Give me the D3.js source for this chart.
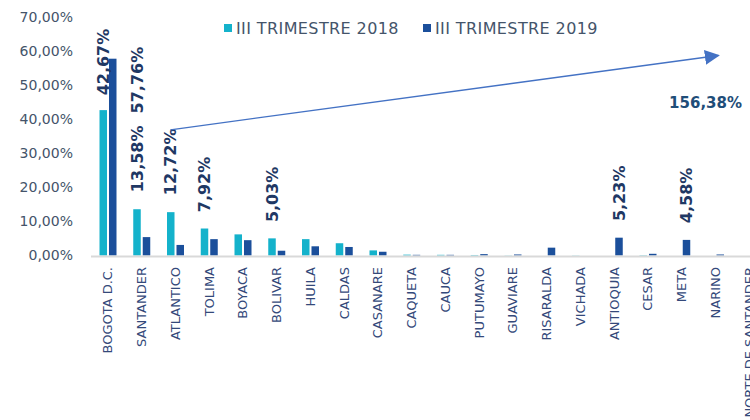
<!DOCTYPE html>
<html>
<head>
<meta charset="utf-8">
<script src="https://cdn.jsdelivr.net/npm/d3@7"></script>
<style>
    body { margin: 0; background: #fff; }
    svg { display: block; font-family: "DejaVu Sans", Verdana, sans-serif; }
</style>
</head>
<body>
<script>
// categories (departments)
var categories = ['BOGOTA D.C.', 'SANTANDER', 'ATLANTICO', 'TOLIMA', 'BOYACA', 'BOLIVAR', 'HUILA',
    'CALDAS', 'CASANARE', 'CAQUETA', 'CAUCA', 'PUTUMAYO', 'GUAVIARE', 'RISARALDA', 'VICHADA',
    'ANTIOQUIA', 'CESAR', 'META', 'NARINO', 'NORTE DE SANTANDER'];

// series names
var series = ['III TRIMESTRE 2018', 'III TRIMESTRE 2019'];

// values in %
var values2018 = [42.67, 13.58, 12.72, 7.92, 6.2, 5.03, 4.8, 3.6, 1.5, 0.25, 0.2, 0.15, 0.05, 0, 0.05, 0, 0.1, 0, 0, 0];
var values2019 = [57.76, 5.4, 3.1, 4.8, 4.5, 1.4, 2.7, 2.5, 1.1, 0.2, 0.2, 0.4, 0.3, 2.3, 0, 5.23, 0.5, 4.58, 0.3, 0];

// y ticks
var yTicks = [0, 10, 20, 30, 40, 50, 60, 70];

// manual labels: text, category, series slot, value where the label starts
var labelTexts  = ['42,67%', '57,76%', '13,58%', '12,72%', '7,92%', '5,03%', '5,23%', '4,58%'];
var labelCats   = ['BOGOTA D.C.', 'SANTANDER', 'SANTANDER', 'ATLANTICO', 'TOLIMA', 'BOLIVAR', 'ANTIOQUIA', 'META'];
var labelSeries = [0, 0, 0, 0, 0, 0, 1, 1];
var labelBase   = [47.0, 41.7, 18.6, 17.7, 12.7, 9.8, 10.1, 9.5];

// growth annotation
var growthText = '156,38%';

// init
var width  = 750,
    height = 420,
    colors = ['#14b2cb', '#1b4f9b'];

var svg = d3.select('body').append('svg')
    .attr('width', width)
    .attr('height', height);

// scales
var x0 = d3.scaleBand().domain(categories).range([91, 766]);
var x1 = d3.scaleBand().domain(d3.range(series.length)).range([8.5, 25.5]).paddingInner(0.21);
var y  = d3.scaleLinear().domain([0, 70]).range([255.5, 17]);

// y axis
var yAxis = svg.append('g')
    .attr('transform', 'translate(91,0)')
    .call(d3.axisLeft(y).tickValues(yTicks).tickSize(0).tickPadding(18)
        .tickFormat(function(d) { return d.toFixed(2).replace('.', ',') + '%'; }));
yAxis.select('.domain').remove();
yAxis.selectAll('text')
    .attr('fill', '#44546a')
    .style('font-size', '14px')
    .style('font-family', '"DejaVu Sans", Verdana, sans-serif');

// bars
var rows = categories.map(function(c, i) { return { cat: c, vals: [values2018[i], values2019[i]] }; });

var groups = svg.selectAll('.cat').data(rows).enter()
    .append('g')
    .attr('class', 'cat')
    .attr('transform', function(d) { return 'translate(' + x0(d.cat) + ',0)'; });

groups.selectAll('rect')
    .data(function(d) { return d.vals.map(function(v, k) { return { k: k, v: v }; }); })
    .enter()
    .append('rect')
    .attr('x', function(d) { return x1(d.k); })
    .attr('width', x1.bandwidth())
    .attr('y', function(d) { return y(d.v); })
    .attr('height', function(d) { return y(0) - y(d.v); })
    .attr('fill', function(d) { return colors[d.k]; });

// x axis line
svg.append('line')
    .attr('x1', 91).attr('x2', width)
    .attr('y1', y(0) + 1).attr('y2', y(0) + 1)
    .attr('stroke', '#d9d9d9')
    .attr('stroke-width', 2);

// x labels
svg.selectAll('.xlab').data(categories).enter()
    .append('text')
    .attr('class', 'xlab')
    .attr('transform', function(d) {
        return 'translate(' + (x0(d) + x0.bandwidth() / 2) + ',267) rotate(-90)';
    })
    .attr('text-anchor', 'end')
    .attr('dy', '0.35em')
    .attr('fill', '#34497a')
    .style('font-size', '13px')
    .text(function(d) { return d; });

// data labels
svg.selectAll('.dlab').data(labelTexts).enter()
    .append('text')
    .attr('class', 'dlab')
    .attr('transform', function(d, i) {
        var cx = x0(labelCats[i]) + x1(labelSeries[i]) + x1.bandwidth() / 2;
        return 'translate(' + cx + ',' + y(labelBase[i]) + ') rotate(-90)';
    })
    .attr('dy', '0.35em')
    .attr('fill', '#1f3864')
    .style('font-size', '16px')
    .style('font-weight', 'bold')
    .text(function(d) { return d; });

// arrow
svg.append('defs').append('marker')
    .attr('id', 'head')
    .attr('viewBox', '0 0 10 10')
    .attr('refX', 9).attr('refY', 5)
    .attr('markerWidth', 15).attr('markerHeight', 15)
    .attr('markerUnits', 'userSpaceOnUse')
    .attr('orient', 'auto')
    .append('path')
    .attr('d', 'M0,0L10,5L0,10Z')
    .attr('fill', '#4472c4');

svg.append('line')
    .attr('x1', x0('ATLANTICO') + x0.bandwidth() / 2 - 5)
    .attr('y1', y(36.9))
    .attr('x2', x0('NARINO') + x0.bandwidth() / 2 + 3)
    .attr('y2', y(58.7))
    .attr('stroke', '#4472c4')
    .attr('stroke-width', 1.3)
    .attr('marker-end', 'url(#head)');

svg.append('text')
    .attr('x', 742)
    .attr('y', y(44.7))
    .attr('dy', '0.35em')
    .attr('text-anchor', 'end')
    .attr('fill', '#1f4e79')
    .style('font-size', '15px')
    .style('font-weight', 'bold')
    .text(growthText);

// legend
var legend = svg.selectAll('.leg').data(series).enter()
    .append('g')
    .attr('class', 'leg')
    .attr('transform', function(d, i) { return 'translate(' + [224, 423][i] + ',28)'; });

legend.append('rect')
    .attr('x', 0).attr('y', -4)
    .attr('width', 8).attr('height', 8)
    .attr('fill', function(d, i) { return colors[i]; });

legend.append('text')
    .attr('x', 12)
    .attr('dy', '0.35em')
    .attr('fill', '#44546a')
    .style('font-size', '16px')
    .style('letter-spacing', '0.4px')
    .text(function(d) { return d; });
</script>
</body>
</html>
